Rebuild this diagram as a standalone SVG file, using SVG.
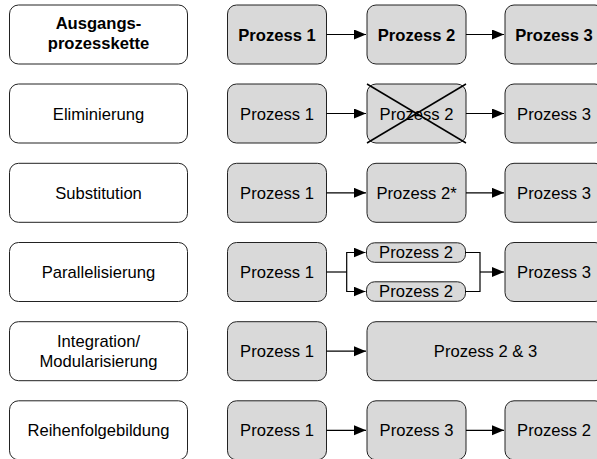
<svg xmlns="http://www.w3.org/2000/svg" width="597" height="459" viewBox="0 0 597 459">
<style>
.lbl{fill:#fff;stroke:#222;stroke-width:1}
.pr{fill:#d9d9d9;stroke:#222;stroke-width:1}
text{font-family:"Liberation Sans",Arial,sans-serif;font-size:16.6px;fill:#000;text-anchor:middle}
.b{font-weight:bold}
.c{stroke:#000;stroke-width:1.2;fill:none}
.x{stroke:#000;stroke-width:1.5}
</style>
<defs>
<marker id="ah" markerUnits="userSpaceOnUse" markerWidth="13" markerHeight="11" refX="12" refY="5" orient="auto">
<path d="M0,0 L12,5 L0,10 z" fill="#000"/>
</marker>
</defs>
<rect width="597" height="459" fill="#fff"/>
<!-- Row 1 -->
<g id="r1-label"><rect class="lbl" x="9.5" y="5" width="178" height="59" rx="9"/><text class="b" x="98.5" y="29">Ausgangs-</text><text class="b" x="98.5" y="49">prozesskette</text></g>
<g id="r1-p1"><rect class="pr" x="227.5" y="5" width="99" height="59" rx="9"/><text class="b" x="277" y="40.5">Prozess 1</text></g>
<g id="r1-p2"><rect class="pr" x="367" y="5" width="99" height="59" rx="9"/><text class="b" x="416.5" y="40.5">Prozess 2</text></g>
<g id="r1-p3"><rect class="pr" x="505" y="5" width="99" height="59" rx="9"/><text class="b" x="554" y="40.5">Prozess 3</text></g>
<!-- Row 2 -->
<g id="r2-label"><rect class="lbl" x="9.5" y="84" width="178" height="59" rx="9"/><text x="98.5" y="119.5">Eliminierung</text></g>
<g id="r2-p1"><rect class="pr" x="227.5" y="84" width="99" height="59" rx="9"/><text x="277" y="119.5">Prozess 1</text></g>
<g id="r2-p2"><rect class="pr" x="367" y="84" width="99" height="59" rx="9"/><text x="416.5" y="119.5">Prozess 2</text><line class="x" x1="367" y1="84" x2="466" y2="143"/><line class="x" x1="466" y1="84" x2="367" y2="143"/></g>
<g id="r2-p3"><rect class="pr" x="505" y="84" width="99" height="59" rx="9"/><text x="554" y="119.5">Prozess 3</text></g>
<!-- Row 3 -->
<g id="r3-label"><rect class="lbl" x="9.5" y="163.3" width="178" height="59" rx="9"/><text x="98.5" y="198.8">Substitution</text></g>
<g id="r3-p1"><rect class="pr" x="227.5" y="163.3" width="99" height="59" rx="9"/><text x="277" y="198.8">Prozess 1</text></g>
<g id="r3-p2"><rect class="pr" x="367" y="163.3" width="99" height="59" rx="9"/><text x="416.5" y="198.8">Prozess 2*</text></g>
<g id="r3-p3"><rect class="pr" x="505" y="163.3" width="99" height="59" rx="9"/><text x="554" y="198.8">Prozess 3</text></g>
<!-- Row 4 -->
<g id="r4-label"><rect class="lbl" x="9.5" y="242.5" width="178" height="59" rx="9"/><text x="98.5" y="278">Parallelisierung</text></g>
<g id="r4-p1"><rect class="pr" x="227.5" y="242.5" width="99" height="59" rx="9"/><text x="277" y="278">Prozess 1</text></g>
<g id="r4-p2a"><rect class="pr" x="366.5" y="242.8" width="99" height="19.5" rx="8"/><text x="416" y="258">Prozess 2</text></g>
<g id="r4-p2b"><rect class="pr" x="366.5" y="281.8" width="99" height="19.5" rx="8"/><text x="416" y="297">Prozess 2</text></g>
<g id="r4-p3"><rect class="pr" x="505" y="242.5" width="99" height="59" rx="9"/><text x="554" y="278">Prozess 3</text></g>
<!-- Row 5 -->
<g id="r5-label"><rect class="lbl" x="9.5" y="321.7" width="178" height="59" rx="9"/><text x="98.5" y="346.5">Integration/</text><text x="98.5" y="366.5">Modularisierung</text></g>
<g id="r5-p1"><rect class="pr" x="227.5" y="321.7" width="99" height="59" rx="9"/><text x="277" y="357.2">Prozess 1</text></g>
<g id="r5-p23"><rect class="pr" x="367" y="321.7" width="237" height="59" rx="9"/><text x="485.5" y="357.2">Prozess 2 &amp; 3</text></g>
<!-- Row 6 -->
<g id="r6-label"><rect class="lbl" x="9.5" y="400.8" width="178" height="59" rx="9"/><text x="98.5" y="436.3">Reihenfolgebildung</text></g>
<g id="r6-p1"><rect class="pr" x="227.5" y="400.8" width="99" height="59" rx="9"/><text x="277" y="436.3">Prozess 1</text></g>
<g id="r6-p3"><rect class="pr" x="367" y="400.8" width="99" height="59" rx="9"/><text x="416.5" y="436.3">Prozess 3</text></g>
<g id="r6-p2"><rect class="pr" x="505" y="400.8" width="99" height="59" rx="9"/><text x="554" y="436.3">Prozess 2</text></g>
<!-- Connectors -->
<g id="connectors">
<line class="c" x1="326.5" y1="34.5" x2="366" y2="34.5" marker-end="url(#ah)"/>
<line class="c" x1="466" y1="34.5" x2="504" y2="34.5" marker-end="url(#ah)"/>
<line class="c" x1="326.5" y1="113.5" x2="366" y2="113.5" marker-end="url(#ah)"/>
<line class="c" x1="466" y1="113.5" x2="504" y2="113.5" marker-end="url(#ah)"/>
<line class="c" x1="326.5" y1="192.8" x2="366" y2="192.8" marker-end="url(#ah)"/>
<line class="c" x1="466" y1="192.8" x2="504" y2="192.8" marker-end="url(#ah)"/>
<line class="c" x1="326.5" y1="272" x2="346.7" y2="272"/>
<path class="c" d="M346.7,272 V252.5 H365.5" marker-end="url(#ah)"/>
<path class="c" d="M346.7,272 V291.5 H365.5" marker-end="url(#ah)"/>
<path class="c" d="M465.5,252.5 H480 V291.5 H465.5"/>
<line class="c" x1="480" y1="272" x2="504" y2="272" marker-end="url(#ah)"/>
<line class="c" x1="326.5" y1="351.2" x2="366" y2="351.2" marker-end="url(#ah)"/>
<line class="c" x1="326.5" y1="430.3" x2="366" y2="430.3" marker-end="url(#ah)"/>
<line class="c" x1="466" y1="430.3" x2="504" y2="430.3" marker-end="url(#ah)"/>
</g>
</svg>
